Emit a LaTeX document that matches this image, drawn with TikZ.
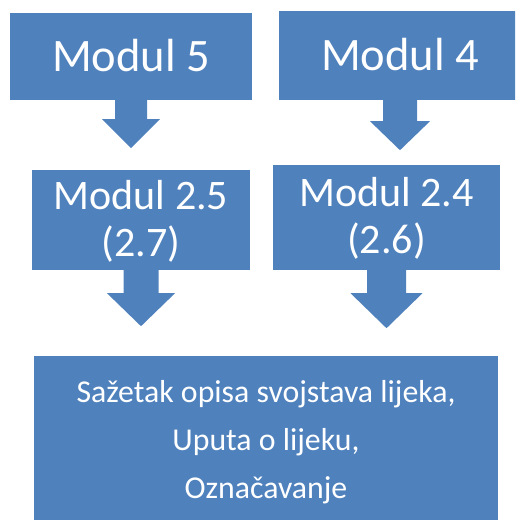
\documentclass[tikz,border=0pt]{standalone}
\usepackage{fontspec}
\setmainfont{Carlito}
\usetikzlibrary{calc}
\definecolor{boxblue}{HTML}{4F81BD}
% block arrow below a node: #1 node, #2 half stem, #3 half head, #4 stem length, #5 total length
\newcommand\blockarrow[5]{%
  \fill[boxblue] ($(#1.south)+(-#2,-1)$) -- ($(#1.south)+(#2,-1)$) -- ($(#1.south)+(#2,#4)$)
    -- ($(#1.south)+(#3,#4)$) -- ($(#1.south)+(0,#5)$) -- ($(#1.south)+(-#3,#4)$)
    -- ($(#1.south)+(-#2,#4)$) -- cycle;}
\begin{document}
\begin{tikzpicture}[x=1pt,y=-1pt,
  box/.style={fill=boxblue, text=white, inner sep=0pt, align=center, text depth=0pt}]
\useasboundingbox (0,0) rectangle (515,520);
\clip (0,0) rectangle (515,520);
\node[box, minimum width=242pt, minimum height=87pt, text height=29pt,
  font=\fontsize{46.5}{55}\selectfont] (m5) at (131,56.5) {Modul 5};
\node[box, minimum width=242pt, minimum height=89pt, text height=29pt,
  font=\fontsize{46.5}{55}\selectfont] (m4) at (400,55.5) {Modul 4};
\node[box, minimum width=218pt, minimum height=100pt, text height=72pt,
  font=\fontsize{42}{47}\selectfont] (m25) at (141,220) {Modul 2.5\\(2.7)};
\node[box, minimum width=227pt, minimum height=105pt, text height=72pt,
  font=\fontsize{42}{47}\selectfont] (m24) at (386.5,217.5) {Modul 2.4\\(2.6)};
\node[box, minimum width=464pt, minimum height=168pt, text height=116pt,
  font=\fontsize{31.8}{48}\selectfont] (out) at (266,440)
  {Sažetak opisa svojstava lijeka,\\Uputa o lijeku,\\Označavanje};
\blockarrow{m5}{16}{29}{19}{48}
\blockarrow{m4}{17}{30}{21}{50}
\blockarrow{m25}{17.5}{34}{23}{56}
\blockarrow{m24}{19.5}{36}{23}{58}
\end{tikzpicture}
\end{document}
